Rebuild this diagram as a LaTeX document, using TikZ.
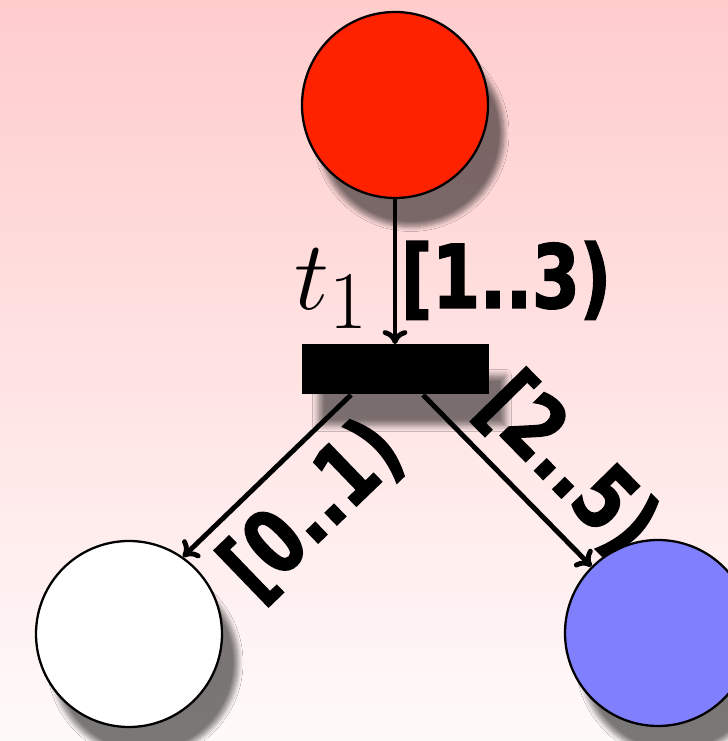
\documentclass[tikz,border=0pt]{standalone}
\usepackage{fontspec}
\newfontfamily\lblfont[FakeStretch=0.78, FakeBold=1.8]{DejaVu Sans Bold}
\usetikzlibrary{arrows.meta,positioning,shadows.blur}

\definecolor{placered}{HTML}{FF2200}
\definecolor{placeblue}{HTML}{8080FF}

\begin{document}
\begin{tikzpicture}[
  place/.style={circle, draw, line width=1.3pt, minimum size=3.72cm, inner sep=0pt,
    blur shadow={shadow xshift=0.32cm, shadow yshift=-0.57cm, shadow blur radius=0.1cm, shadow blur steps=8, shadow opacity=52}},
  trans/.style={rectangle, fill=black, minimum width=3.74cm, minimum height=1cm, inner sep=0pt,
    blur shadow={shadow xshift=0.34cm, shadow yshift=-0.62cm, shadow blur radius=0.12cm, shadow blur steps=8, shadow opacity=52}},
  arc/.style={-{To[length=8pt,width=14pt]}, line width=2.8pt},
  lbl/.style={font=\lblfont\fontsize{50}{50}\selectfont, inner sep=2pt},
  tname/.style={font=\Huge, scale=2.25, inner sep=0pt},
]
\clip (0,0) rectangle (14.56,14.82);
\shade[top color=red!20, bottom color=red!2] (0,0) rectangle (14.56,14.82);

\node[place, fill=placered] (p1) at (7.9,12.72) {};
\node[trans, below=2.9cm of p1] (t1) {};
\node[place, fill=white] (p2) at (2.58,2.14) {};
\node[place, fill=placeblue] (p3) at (13.16,2.16) {};
\node[tname, anchor=south east] (t1name) at ([xshift=-0.5cm, yshift=0.3cm]t1.north) {$t_1$};

\draw[arc] (p1) -- node[lbl, right, pos=0.56] {[1..3)} (t1);
\draw[arc] ([xshift=-0.88cm]t1.south) -- node[lbl, sloped, below=0.22cm, pos=0.46] {[0..1)} (p2.55);
\draw[arc] ([xshift=0.56cm]t1.south) -- node[lbl, sloped, above=0.18cm, pos=0.63] {[2..5)} (p3.135);
\end{tikzpicture}
\end{document}
